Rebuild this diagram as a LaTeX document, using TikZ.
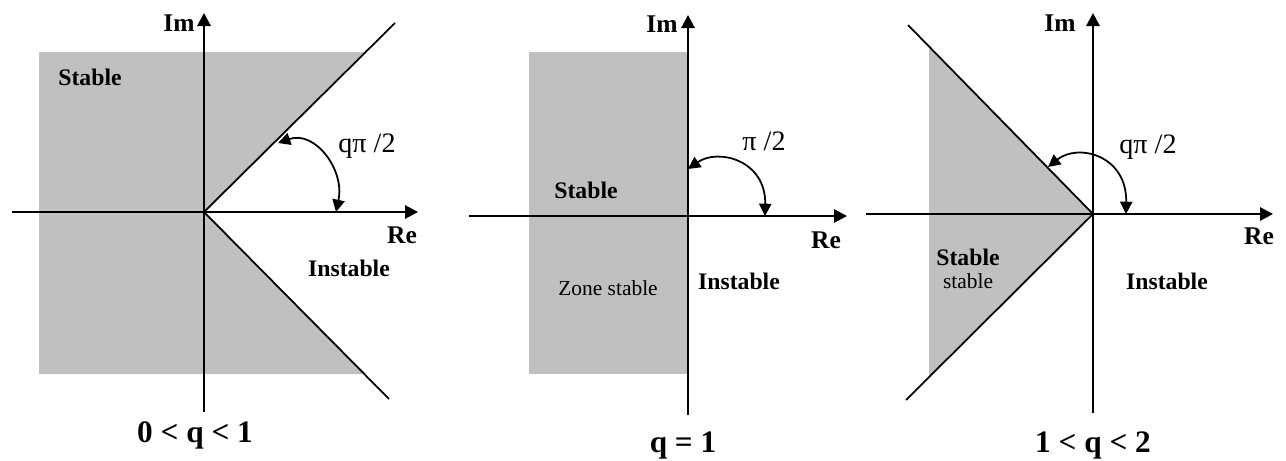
\documentclass[tikz,border=0pt]{standalone}
\usepackage{fontspec}
\setmainfont{Liberation Serif}
\definecolor{ZoneGray}{RGB}{192,192,192}
\usepackage{tikz}
\usetikzlibrary{arrows.meta, positioning}

\tikzset{
  axis/.style={line width=1.1pt, -{Triangle[length=7.4pt,width=7.6pt]}},
  border/.style={line width=1pt},
  zone/.style={fill=ZoneGray},
  angarc/.style={line width=1pt, {Triangle[length=7pt,width=7pt]}-{Triangle[length=7pt,width=7pt]}},
  axlbl/.style={font=\fontsize{14.5}{17}\bfseries},
  reglbl/.style={font=\fontsize{13.5}{16}\bfseries},
  anglbl/.style={font=\fontsize{16}{19}\selectfont},
  qlbl/.style={font=\fontsize{17.8}{21}\bfseries},
  note/.style={font=\fontsize{12.2}{14}\selectfont}
}

\begin{document}
\begin{tikzpicture}[x=2cm, y=2cm]
  \useasboundingbox (0,0) rectangle (12.86,-4.60);

  % 0 < q < 1
  \begin{scope}[shift={(2.04,-2.12)}]
    \fill[zone] (-1.65,1.60) -- (1.60,1.60) -- (0,0) -- (1.62,-1.62) -- (-1.65,-1.62) -- cycle;
    \coordinate (O1) at (0,0);
    \coordinate (imB1) at (0,-2.00);
    \coordinate (imT1) at (0,1.99);
    \coordinate (reL1) at (-1.92,0);
    \coordinate (reR1) at (2.14,0);
    \coordinate (up1) at (1.91,1.89);
    \coordinate (dn1) at (1.85,-1.87);
    \coordinate (arcA1) at (0.74,0.69);
    \coordinate (arcB1) at (1.32,0);
    \draw[axis] (imB1) -- (imT1);
    \draw[axis] (reL1) -- (reR1);
    \draw[border] (O1) -- (up1);
    \draw[border] (O1) -- (dn1);
    \draw[angarc] (arcA1) .. controls (1.11,0.82) and (1.41,0.42) .. (arcB1);
    \node[axlbl] (im1) at (-0.25,1.89) {Im};
    \node[axlbl] (re1) at (1.98,-0.23) {Re};
    \node[reglbl] (stab1) at (-1.14,1.35) {Stable};
    \node[reglbl] (inst1) at (1.45,-0.56) {Instable};
    \node[anglbl] (ang1) at (1.63,0.66) {qπ /2};
    \node[qlbl] (q1) at (-0.09,-2.23) {0 < q < 1};
  \end{scope}

  % q = 1
  \begin{scope}[shift={(6.88,-2.16)}]
    \fill[zone] (-1.59,1.64) rectangle (0,-1.58);
    \coordinate (O2) at (0,0);
    \coordinate (imB2) at (0,-1.99);
    \coordinate (imT2) at (0,2.01);
    \coordinate (reL2) at (-2.19,0);
    \coordinate (reR2) at (1.59,0);
    \coordinate (arcA2) at (0,0.47);
    \coordinate (arcB2) at (0.77,0);
    \draw[axis] (imB2) -- (imT2);
    \draw[axis] (reL2) -- (reR2);
    \draw[angarc] (arcA2) .. controls (0.30,0.68) and (0.78,0.56) .. (arcB2);
    \node[axlbl] (im2) at (-0.26,1.92) {Im};
    \node[axlbl] (re2) at (1.38,-0.24) {Re};
    \node[reglbl] (stab2) at (-1.02,0.26) {Stable};
    \node[note] (zone2) at (-0.80,-0.72) {Zone stable};
    \node[reglbl] (inst2) at (0.51,-0.65) {Instable};
    \node[anglbl] (ang2) at (0.76,0.75) {π /2};
    \node[qlbl] (q2) at (-0.05,-2.29) {q = 1};
  \end{scope}

  % 1 < q < 2
  \begin{scope}[shift={(10.93,-2.14)}]
    \fill[zone] (0,0) -- (-1.64,1.67) -- (-1.64,-1.62) -- cycle;
    \coordinate (O3) at (0,0);
    \coordinate (imB3) at (0,-1.99);
    \coordinate (imT3) at (0,2.01);
    \coordinate (reL3) at (-2.27,0);
    \coordinate (reR3) at (1.80,0);
    \coordinate (up3) at (-1.85,1.89);
    \coordinate (dn3) at (-1.87,-1.86);
    \coordinate (arcA3) at (-0.45,0.47);
    \coordinate (arcB3) at (0.33,0);
    \draw[axis] (imB3) -- (imT3);
    \draw[axis] (reL3) -- (reR3);
    \draw[border] (O3) -- (up3);
    \draw[border] (O3) -- (dn3);
    \draw[angarc] (arcA3) .. controls (-0.15,0.71) and (0.34,0.59) .. (arcB3);
    \node[axlbl] (im3) at (-0.33,1.91) {Im};
    \node[axlbl] (re3) at (1.66,-0.22) {Re};
    \node[reglbl] (stab3) at (-1.25,-0.43) {Stable};
    \node[note] (zone3) at (-1.25,-0.67) {stable};
    \node[reglbl] (inst3) at (0.74,-0.67) {Instable};
    \node[anglbl] (ang3) at (0.55,0.67) {qπ /2};
    \node[qlbl] (q3) at (0,-2.31) {1 < q < 2};
  \end{scope}
\end{tikzpicture}
\end{document}
